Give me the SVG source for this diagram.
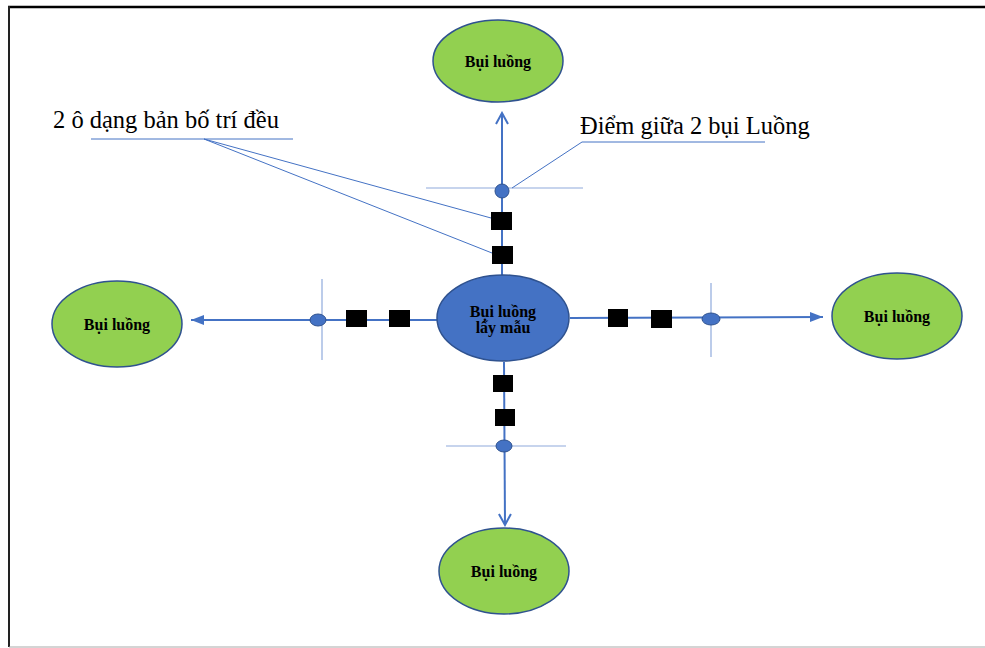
<svg xmlns="http://www.w3.org/2000/svg" width="985" height="648" viewBox="0 0 985 648">
<defs>
<style>
.node{fill:#92D050;stroke:#2F528F;stroke-width:1.5}
.center{fill:#4472C4;stroke:#2F528F;stroke-width:1.5}
.lbl{font-family:"Liberation Serif",serif;font-weight:bold;font-size:16px;fill:#000;text-anchor:middle}
.big{font-family:"Liberation Serif",serif;font-size:24.5px;fill:#000}
.conn{stroke:#4472C4;stroke-width:2;fill:none}
.thin{stroke:#8FAADC;stroke-width:1.2;fill:none}
.lead{stroke:#4472C4;stroke-width:1;fill:none}
.sq{fill:#000}
.dot{fill:#4472C4;stroke:#2F528F;stroke-width:1}
</style>
<marker id="open" markerWidth="14" markerHeight="14" refX="12" refY="7" orient="auto" markerUnits="userSpaceOnUse">
<path d="M1,1 L12,7 L1,13" fill="none" stroke="#4472C4" stroke-width="2"/>
</marker>
<marker id="fill" markerWidth="14" markerHeight="12" refX="13" refY="6" orient="auto" markerUnits="userSpaceOnUse">
<path d="M0,1 L13,6 L0,11 Z" fill="#4472C4"/>
</marker>
</defs>
<rect x="0" y="0" width="985" height="648" fill="#fff"/>
<line x1="8" y1="7" x2="985" y2="7" stroke="#000" stroke-width="2.5"/>
<line x1="9" y1="6" x2="9" y2="647" stroke="#222" stroke-width="2"/>
<line x1="9" y1="647" x2="985" y2="647" stroke="#aaa" stroke-width="1.2"/>

<g id="connectors">
<line class="conn" x1="502" y1="275" x2="502" y2="113" marker-end="url(#open)"/>
<line class="conn" x1="504" y1="362" x2="505" y2="525" marker-end="url(#open)"/>
<line class="conn" x1="437" y1="320" x2="191" y2="320" marker-end="url(#fill)"/>
<line class="conn" x1="570" y1="318" x2="823" y2="317" marker-end="url(#fill)"/>
<line class="thin" x1="426" y1="188" x2="583" y2="188"/>
<line class="thin" x1="446" y1="446" x2="566" y2="446"/>
<line class="thin" x1="322" y1="279" x2="322" y2="360"/>
<line class="thin" x1="711" y1="283" x2="711" y2="357"/>
<line class="lead" x1="91" y1="139" x2="293" y2="139"/>
<line class="lead" x1="204" y1="139" x2="491" y2="218"/>
<line class="lead" x1="204" y1="139" x2="492" y2="253"/>
<line class="lead" x1="582" y1="142" x2="765" y2="142"/>
<line class="lead" x1="582" y1="142" x2="512" y2="188"/>
</g>

<g id="markers-top">
<ellipse class="dot" cx="502" cy="191" rx="7" ry="7"/>
<rect class="sq" x="491" y="212" width="21" height="18"/>
<rect class="sq" x="492" y="246" width="21" height="18"/>
</g>
<g id="markers-bottom">
<rect class="sq" x="493" y="375" width="20" height="17"/>
<rect class="sq" x="495" y="409" width="20" height="17"/>
<ellipse class="dot" cx="504" cy="446" rx="8" ry="6"/>
</g>
<g id="markers-left">
<ellipse class="dot" cx="318" cy="320" rx="8" ry="6"/>
<rect class="sq" x="346" y="310" width="21" height="17"/>
<rect class="sq" x="389" y="310" width="21" height="17"/>
</g>
<g id="markers-right">
<rect class="sq" x="608" y="309" width="20" height="18"/>
<rect class="sq" x="651" y="310" width="21" height="18"/>
<ellipse class="dot" cx="711" cy="319" rx="9" ry="6"/>
</g>

<g id="node-center">
<ellipse class="center" cx="503" cy="318" rx="66" ry="43"/>
<text class="lbl" x="503" y="317">Bụi luồng</text>
<text class="lbl" x="503" y="333">lấy mẫu</text>
</g>
<g id="node-top">
<ellipse class="node" cx="498" cy="61" rx="65" ry="41"/>
<text class="lbl" x="498" y="67">Bụi luồng</text>
</g>
<g id="node-left">
<ellipse class="node" cx="117" cy="324" rx="65" ry="43"/>
<text class="lbl" x="117" y="330">Bụi luồng</text>
</g>
<g id="node-right">
<ellipse class="node" cx="897" cy="316" rx="65" ry="43"/>
<text class="lbl" x="897" y="322">Bụi luồng</text>
</g>
<g id="node-bottom">
<ellipse class="node" cx="504" cy="571" rx="65" ry="43"/>
<text class="lbl" x="504" y="577">Bụi luồng</text>
</g>

<g id="label-left">
<text class="big" x="53" y="128">2 ô dạng bản bố trí đều</text>
</g>
<g id="label-right">
<text class="big" x="580" y="134">Điểm giữa 2 bụi Luồng</text>
</g>
</svg>
